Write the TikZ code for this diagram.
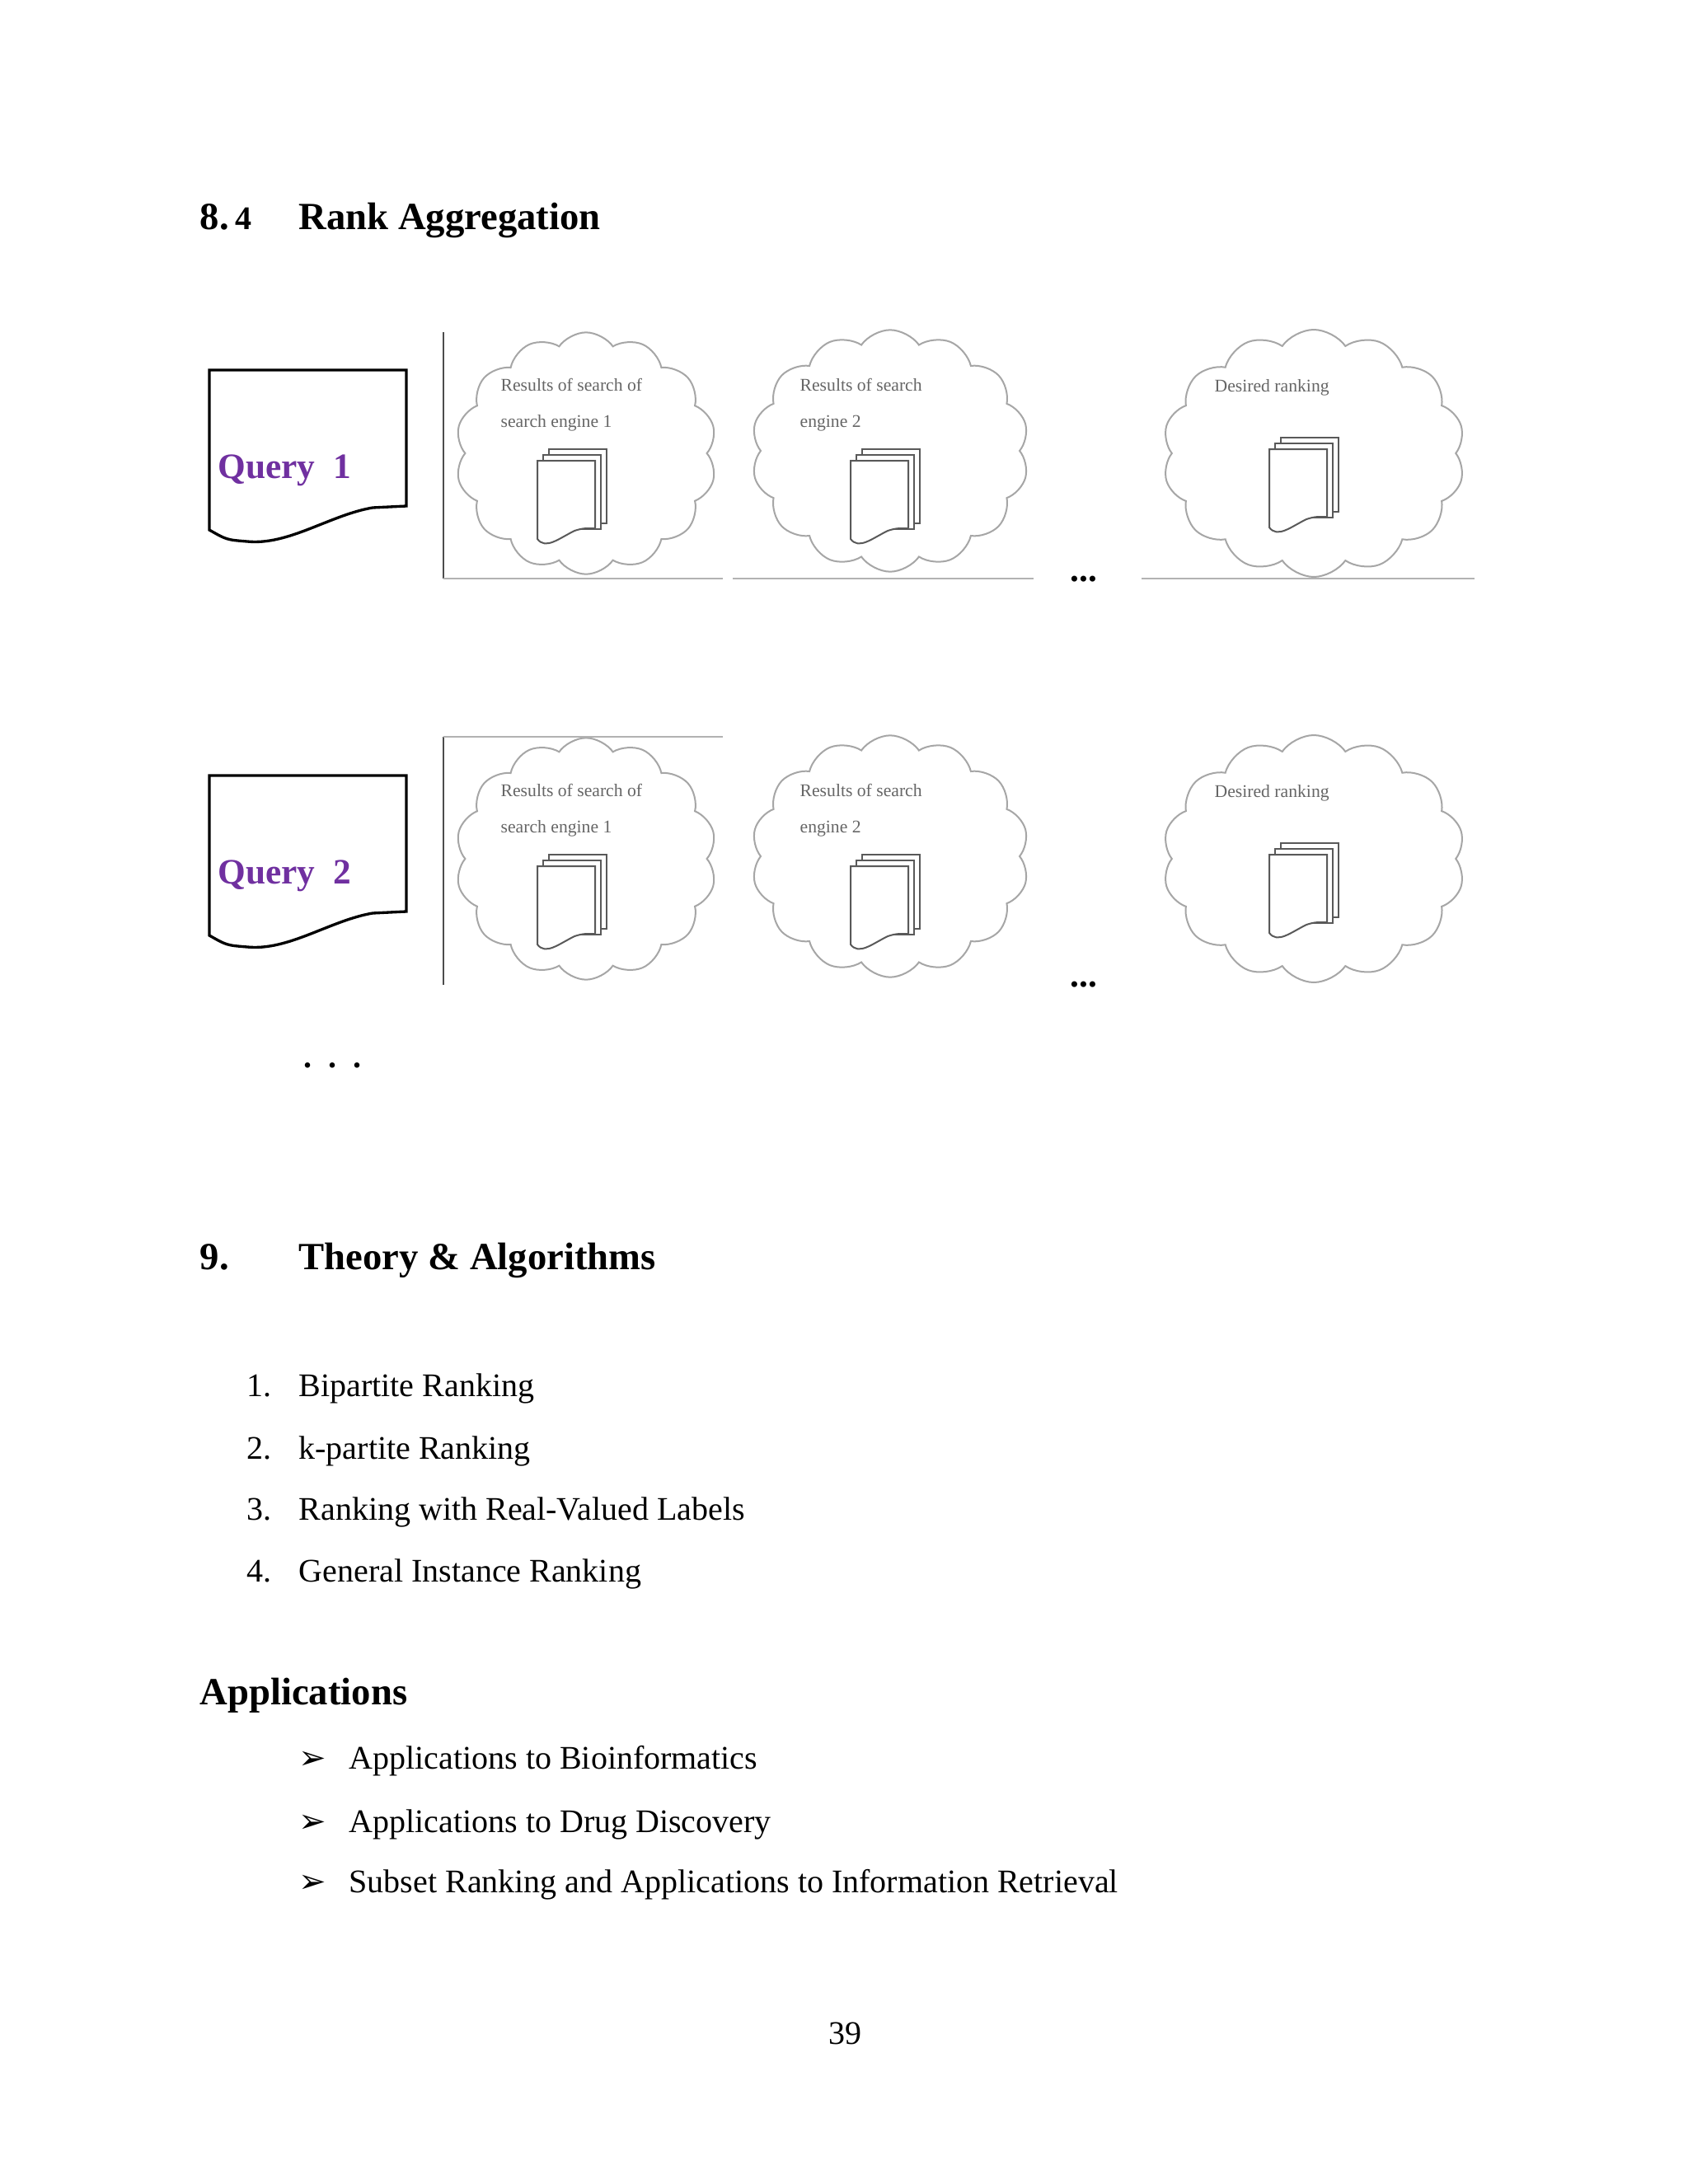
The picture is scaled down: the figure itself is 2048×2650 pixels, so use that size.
\documentclass[tikz,border=0pt]{standalone}
\usepackage{fontspec}
\setmainfont{Liberation Serif}
\usetikzlibrary{shapes.symbols}
\definecolor{qpurple}{RGB}{112,48,160}
\tikzset{
 body/.style={anchor=base west,inner sep=0,font=\fontsize{12}{14}\selectfont},
 head/.style={anchor=base west,inner sep=0,font=\fontsize{14}{16}\selectfont\bfseries},
 qtext/.style={anchor=base west,inner sep=0,font=\fontsize{13}{15}\selectfont\bfseries,text=qpurple},
 cloudbox/.style={cloud,cloud puffs=14,cloud puff arc=110,draw=gray!70,line width=0.6pt,aspect=1,inner sep=0,outer sep=0},
 ctext/.style={anchor=base west,inner sep=0,font=\fontsize{6.5}{8}\selectfont,text=gray!80!black},
 rule/.style={draw=gray!60,line width=0.8pt},
 vrule/.style={draw=black!70,line width=0.6pt},
 pagecol/.style={draw=gray!70!black,line width=0.6pt,fill=white},
}
\newcommand{\docstack}[3]{% x y id
 \foreach \k in {2,1}{
  \draw[pagecol] ({#1+\k*7},{#2-\k*7}) rectangle ({#1+\k*7+70},{#2-\k*7+90});
 }
 \draw[pagecol] (#1,#2) -- (#1,{#2+95}) .. controls ({#1+10},{#2+108}) and ({#1+25},{#2+95}) .. ({#1+45},{#2+85}) .. controls ({#1+55},{#2+82}) .. ({#1+70},{#2+82}) -- ({#1+70},#2) -- cycle;
 \coordinate (#3) at ({#1+35},{#2+45});
}
\newcommand{\queryrow}[3]{% yoffset, label, suffix
 \begin{scope}[yshift=#1]
 \draw[line width=1pt] (254,449) -- (493,449) -- (493,614) -- (452,616) .. controls (400,625) and (350,662) .. (300,657) .. controls (275,655) .. (254,643) -- cycle;
 \node[qtext] (q#3) at (264,580) {#2};
 \node[cloudbox,minimum width=95pt,minimum height=88pt] (ca#3) at (711,550) {};
 \node[cloudbox,minimum width=101pt,minimum height=88pt] (cb#3) at (1080,547) {};
 \node[cloudbox,minimum width=110pt,minimum height=90pt] (cc#3) at (1594,550) {};
 \node[ctext] (ta#3) at (607,474) {Results of search of};
 \node[ctext] (tb#3) at (607,518) {search engine 1};
 \node[ctext] (tc#3) at (970,474) {Results of search};
 \node[ctext] (td#3) at (970,518) {engine 2};
 \node[ctext] (te#3) at (1473,475) {Desired ranking};
 \docstack{652}{559}{da#3}
 \docstack{1032}{559}{db#3}
 \docstack{1540}{545}{dc#3}
 \node[anchor=base,inner sep=0,font=\fontsize{13}{15}\selectfont\bfseries] (dots#3) at (1315,705) {...};
 \end{scope}
}
\begin{document}
\begin{tikzpicture}[x=0.3pt,y=-0.3pt]
\useasboundingbox[fill=white] (0,0) rectangle (2048,2650);
\node[head] (sec) at (242,278) {8.\,{\fontsize{12}{14}\selectfont 4}};
\node[head] (title) at (362,278) {Rank Aggregation};
% row 1
\queryrow{0}{Query\ \ 1}{a}
\draw[vrule] (538,403) -- (538,702);
\draw[rule] (538,702) -- (877,702);
\draw[rule] (889,702) -- (1254,702);
\draw[rule] (1385,702) -- (1789,702);
% row 2
\queryrow{-147.6pt}{Query\ \ 2}{b}
\draw[vrule] (538,894) -- (538,1195);
\draw[rule] (538,894) -- (877,894);
\node[anchor=base,inner sep=0,font=\fontsize{12}{14}\selectfont\bfseries] (vdots) at (403,1295) {.\ \ .\ \ .};
\node[head] (s9) at (242,1540) {9.};
\node[head] (t9) at (362,1540) {Theory \& Algorithms};
\foreach \n/\t/\y in {1/Bipartite Ranking/1694,2/k-partite Ranking/1770,3/Ranking with Real-Valued Labels/1844,4/General Instance Ranking/1919}{
 \node[body,anchor=base east] (n\n) at (330,\y) {\n.};
 \node[body] (l\n) at (362,\y) {\t};
}
\node[head] (app) at (242,2068) {Applications};
\newfontfamily\symf{DejaVu Sans}
\foreach \n/\t/\y in {1/Applications to Bioinformatics/2146,2/Applications to Drug Discovery/2223,3/Subset Ranking and Applications to Information Retrieval/2296}{
 \node[body] (b\n) at (362,\y) {\symf ➢};
 \node[body] (a\n) at (423,\y) {\t};
}
\node[anchor=base,inner sep=0,font=\fontsize{12}{14}\selectfont] (pg) at (1025,2480) {39};
\end{tikzpicture}
\end{document}
